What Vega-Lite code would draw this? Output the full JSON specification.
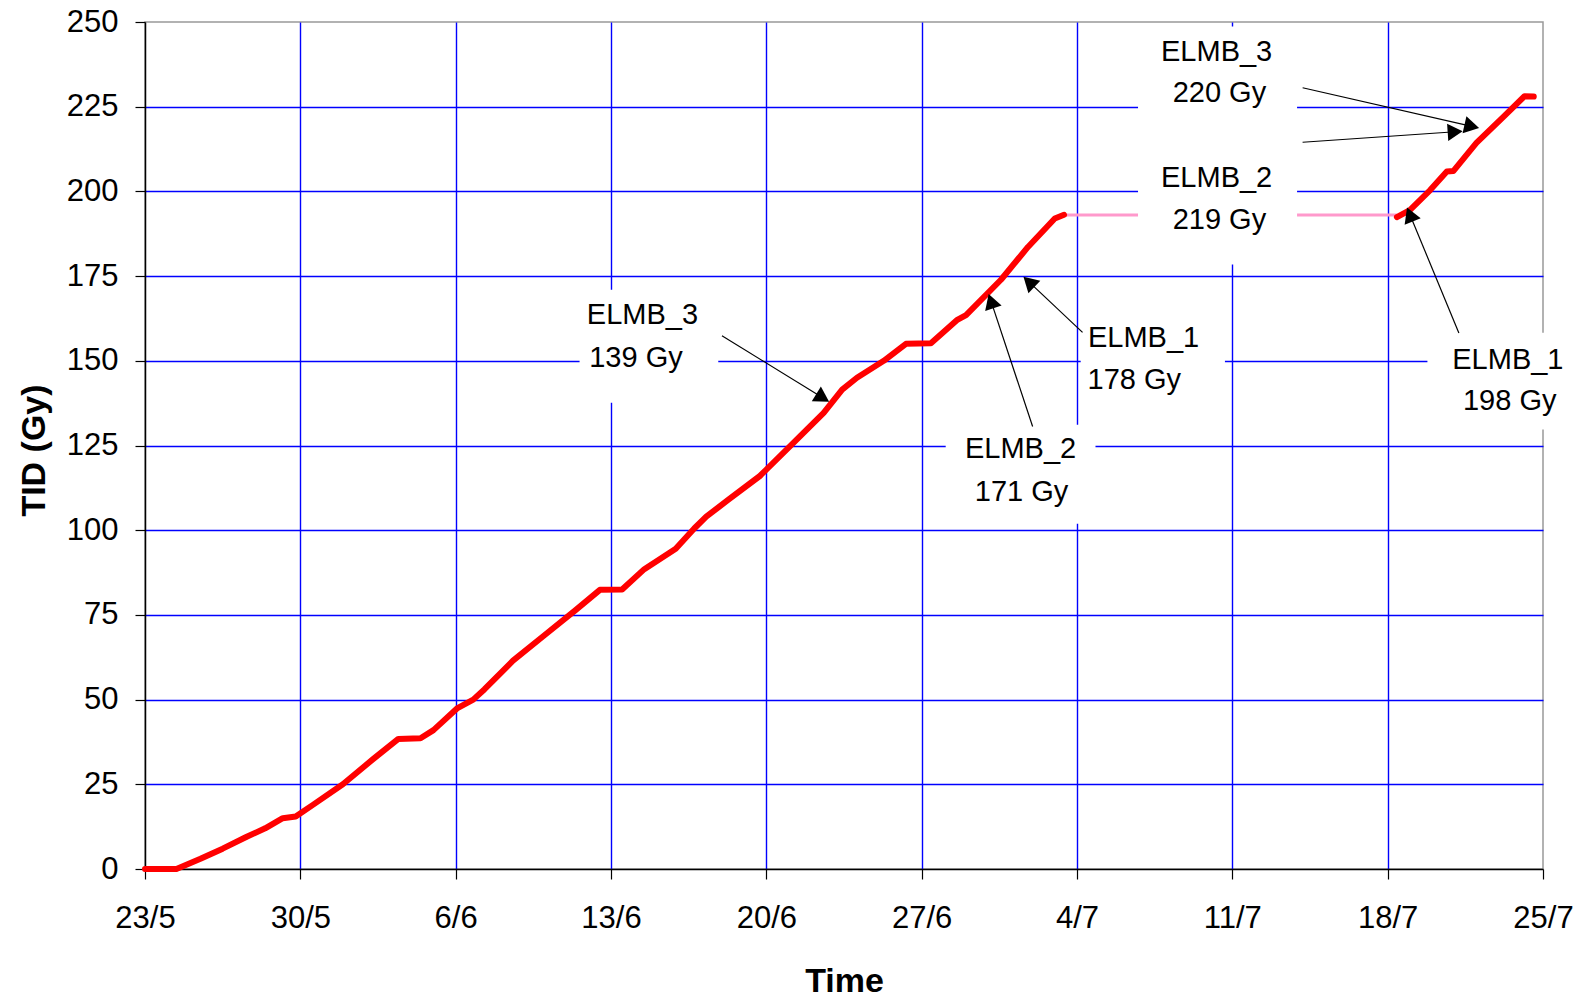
{
  "$schema": "https://vega.github.io/schema/vega-lite/v6.json",
  "width": 1398,
  "height": 847,
  "autosize": {"type": "none"},
  "padding": {"left": 145, "top": 22, "right": 38, "bottom": 129},
  "background": "white",
  "config": {
    "view": {"stroke": "#999999", "strokeWidth": 1.5},
    "axis": {
      "labelFont": "Liberation Sans",
      "labelFontSize": 31,
      "labelColor": "black",
      "titleFont": "Liberation Sans",
      "titleFontWeight": "bold",
      "titleFontSize": 34,
      "titleColor": "black",
      "domainColor": "black",
      "domainWidth": 1.5,
      "tickColor": "black",
      "tickSize": 10,
      "tickWidth": 1.2,
      "gridWidth": 1.4
    }
  },
  "datasets": {
    "tid": [
      {"time": "2004-05-23T00:00", "tid": 0, "seg": 1},
      {"time": "2004-05-24T10:00", "tid": 0, "seg": 1},
      {"time": "2004-05-25T12:00", "tid": 3, "seg": 1},
      {"time": "2004-05-26T12:00", "tid": 6, "seg": 1},
      {"time": "2004-05-27T14:00", "tid": 9.5, "seg": 1},
      {"time": "2004-05-28T10:00", "tid": 12, "seg": 1},
      {"time": "2004-05-29T05:00", "tid": 15, "seg": 1},
      {"time": "2004-05-29T19:00", "tid": 15.5, "seg": 1},
      {"time": "2004-05-30T14:00", "tid": 19, "seg": 1},
      {"time": "2004-05-31T22:00", "tid": 25, "seg": 1},
      {"time": "2004-06-02T07:00", "tid": 32.5, "seg": 1},
      {"time": "2004-06-03T10:00", "tid": 38.4, "seg": 1},
      {"time": "2004-06-04T10:00", "tid": 38.6, "seg": 1},
      {"time": "2004-06-05T00:00", "tid": 41, "seg": 1},
      {"time": "2004-06-06T02:00", "tid": 47.5, "seg": 1},
      {"time": "2004-06-06T19:00", "tid": 50, "seg": 1},
      {"time": "2004-06-07T07:00", "tid": 53, "seg": 1},
      {"time": "2004-06-08T14:00", "tid": 61.5, "seg": 1},
      {"time": "2004-06-10T00:00", "tid": 69, "seg": 1},
      {"time": "2004-06-11T10:00", "tid": 76.5, "seg": 1},
      {"time": "2004-06-12T12:00", "tid": 82.4, "seg": 1},
      {"time": "2004-06-13T12:00", "tid": 82.5, "seg": 1},
      {"time": "2004-06-14T12:00", "tid": 88.5, "seg": 1},
      {"time": "2004-06-15T22:00", "tid": 94.5, "seg": 1},
      {"time": "2004-06-16T18:00", "tid": 100.5, "seg": 1},
      {"time": "2004-06-17T07:00", "tid": 104, "seg": 1},
      {"time": "2004-06-18T07:00", "tid": 109, "seg": 1},
      {"time": "2004-06-19T17:00", "tid": 116, "seg": 1},
      {"time": "2004-06-21T05:00", "tid": 125.7, "seg": 1},
      {"time": "2004-06-22T14:00", "tid": 134.6, "seg": 1},
      {"time": "2004-06-23T10:00", "tid": 141.5, "seg": 1},
      {"time": "2004-06-24T02:00", "tid": 145, "seg": 1},
      {"time": "2004-06-25T07:00", "tid": 150, "seg": 1},
      {"time": "2004-06-26T07:00", "tid": 155, "seg": 1},
      {"time": "2004-06-27T10:00", "tid": 155.2, "seg": 1},
      {"time": "2004-06-28T14:00", "tid": 162, "seg": 1},
      {"time": "2004-06-29T00:00", "tid": 163.5, "seg": 1},
      {"time": "2004-06-30T14:00", "tid": 174, "seg": 1},
      {"time": "2004-07-01T19:00", "tid": 183.6, "seg": 1},
      {"time": "2004-07-03T00:00", "tid": 192, "seg": 1},
      {"time": "2004-07-03T10:00", "tid": 193.1, "seg": 1},
      {"time": "2004-07-18T10:00", "tid": 192.4, "seg": 2},
      {"time": "2004-07-19T00:00", "tid": 194.5, "seg": 2},
      {"time": "2004-07-19T22:00", "tid": 200.4, "seg": 2},
      {"time": "2004-07-20T16:00", "tid": 205.9, "seg": 2},
      {"time": "2004-07-20T23:00", "tid": 206, "seg": 2},
      {"time": "2004-07-22T00:00", "tid": 214.3, "seg": 2},
      {"time": "2004-07-23T06:00", "tid": 222.2, "seg": 2},
      {"time": "2004-07-24T04:00", "tid": 228.1, "seg": 2},
      {"time": "2004-07-24T14:00", "tid": 228, "seg": 2}
    ],
    "gap": [
      {"time": "2004-07-03T10:00", "tid": 193},
      {"time": "2004-07-18T10:00", "tid": 193}
    ],
    "boxes": [
      {"t1": "2004-06-11T14:00", "t2": "2004-06-17T20:00", "v1": 171.0, "v2": 137.6},
      {"t1": "2004-06-28T02:00", "t2": "2004-07-04T20:00", "v1": 131.1, "v2": 101.9},
      {"t1": "2004-07-04T04:00", "t2": "2004-07-10T16:00", "v1": 165.1, "v2": 137.0},
      {"t1": "2004-07-19T19:00", "t2": "2004-07-26T00:00", "v1": 158.3, "v2": 129.7},
      {"t1": "2004-07-06T18:00", "t2": "2004-07-13T22:00", "v1": 248.7, "v2": 178.4}
    ],
    "arrows": [
      {"t1": "2004-06-18T00:00", "v1": 157.4, "t2": "2004-06-22T13:00", "v2": 139.1, "angle": 121.6},
      {"t1": "2004-07-02T00:00", "v1": 130.6, "t2": "2004-06-30T03:00", "v2": 167.6, "angle": -18.4},
      {"t1": "2004-07-04T06:00", "v1": 158.4, "t2": "2004-07-01T20:00", "v2": 173.3, "angle": -46.6},
      {"t1": "2004-07-21T05:00", "v1": 158.2, "t2": "2004-07-19T00:00", "v2": 193.2, "angle": -22.1},
      {"t1": "2004-07-14T04:00", "v1": 230.6, "t2": "2004-07-21T19:00", "v2": 219.2, "angle": 102.8},
      {"t1": "2004-07-14T04:00", "v1": 214.5, "t2": "2004-07-21T01:00", "v2": 217.6, "angle": 86.0}
    ],
    "labels": [
      {"time": "2004-06-14T10:00", "tid": 163.4, "text": "ELMB_3"},
      {"time": "2004-06-14T03:00", "tid": 150.9, "text": "139 Gy"},
      {"time": "2004-07-01T11:00", "tid": 124.1, "text": "ELMB_2"},
      {"time": "2004-07-01T12:00", "tid": 111.3, "text": "171 Gy"},
      {"time": "2004-07-07T00:00", "tid": 156.8, "text": "ELMB_1"},
      {"time": "2004-07-06T14:00", "tid": 144.3, "text": "178 Gy"},
      {"time": "2004-07-23T10:00", "tid": 150.3, "text": "ELMB_1"},
      {"time": "2004-07-23T12:00", "tid": 138.1, "text": "198 Gy"},
      {"time": "2004-07-10T07:00", "tid": 241.1, "text": "ELMB_3"},
      {"time": "2004-07-10T10:00", "tid": 228.9, "text": "220 Gy"},
      {"time": "2004-07-10T07:00", "tid": 203.9, "text": "ELMB_2"},
      {"time": "2004-07-10T10:00", "tid": 191.7, "text": "219 Gy"}
    ]
  },
  "layer": [
    {
      "data": {"name": "gap"},
      "mark": {"type": "line", "color": "#FF99CC", "strokeWidth": 3},
      "encoding": {
        "x": {
          "field": "time", "type": "temporal", "title": "Time",
          "scale": {"domain": [{"year": 2004, "month": 5, "date": 23}, {"year": 2004, "month": 7, "date": 25}]},
          "axis": {
            "values": [
              {"year": 2004, "month": 5, "date": 23}, {"year": 2004, "month": 5, "date": 30},
              {"year": 2004, "month": 6, "date": 6}, {"year": 2004, "month": 6, "date": 13},
              {"year": 2004, "month": 6, "date": 20}, {"year": 2004, "month": 6, "date": 27},
              {"year": 2004, "month": 7, "date": 4}, {"year": 2004, "month": 7, "date": 11},
              {"year": 2004, "month": 7, "date": 18}, {"year": 2004, "month": 7, "date": 25}
            ],
            "format": "%-d/%-m",
            "labelPadding": 24,
            "labelFlush": false,
            "labelOverlap": false,
            "grid": true,
            "gridColor": {"condition": {"test": "datum.index <= 0.001 || datum.index >= 0.999", "value": "transparent"}, "value": "#0000FF"},
            "titleX": 699,
            "titleY": 112,
            "titleAlign": "center",
            "titleBaseline": "middle",
            "titleAnchor": null
          }
        },
        "y": {
          "field": "tid", "type": "quantitative", "title": "TID (Gy)",
          "scale": {"domain": [0, 250], "nice": false, "zero": true},
          "axis": {
            "values": [0, 25, 50, 75, 100, 125, 150, 175, 200, 225, 250],
            "labelPadding": 17,
            "labelFlush": false,
            "labelOverlap": false,
            "grid": true,
            "gridColor": {"condition": {"test": "datum.value == 0 || datum.value == 250", "value": "transparent"}, "value": "#0000FF"},
            "titleX": -111,
            "titleY": 428,
            "titleAngle": -90,
            "titleAlign": "center",
            "titleBaseline": "middle",
            "titleAnchor": null
          }
        }
      }
    },
    {
      "data": {"name": "boxes"},
      "mark": {"type": "rect", "color": "white", "opacity": 1},
      "encoding": {
        "x": {"field": "t1", "type": "temporal"},
        "x2": {"field": "t2"},
        "y": {"field": "v1", "type": "quantitative"},
        "y2": {"field": "v2"}
      }
    },
    {
      "data": {"name": "tid"},
      "mark": {"type": "line", "color": "#FF0000", "strokeWidth": 6, "strokeJoin": "round", "strokeCap": "round"},
      "encoding": {
        "x": {"field": "time", "type": "temporal"},
        "y": {"field": "tid", "type": "quantitative"},
        "detail": {"field": "seg", "type": "nominal"}
      }
    },
    {
      "data": {"name": "arrows"},
      "mark": {"type": "rule", "color": "black", "strokeWidth": 1.2},
      "encoding": {
        "x": {"field": "t1", "type": "temporal"},
        "y": {"field": "v1", "type": "quantitative"},
        "x2": {"field": "t2"},
        "y2": {"field": "v2"}
      }
    },
    {
      "data": {"name": "arrows"},
      "mark": {"type": "point", "shape": "triangle-up", "filled": true, "color": "black", "opacity": 1, "size": 300},
      "encoding": {
        "x": {"field": "t2", "type": "temporal"},
        "y": {"field": "v2", "type": "quantitative"},
        "angle": {"field": "angle", "type": "quantitative", "scale": null}
      }
    },
    {
      "data": {"name": "labels"},
      "mark": {"type": "text", "font": "Liberation Sans", "fontSize": 29, "color": "black", "align": "center", "baseline": "middle"},
      "encoding": {
        "x": {"field": "time", "type": "temporal"},
        "y": {"field": "tid", "type": "quantitative"},
        "text": {"field": "text"}
      }
    }
  ]
}
